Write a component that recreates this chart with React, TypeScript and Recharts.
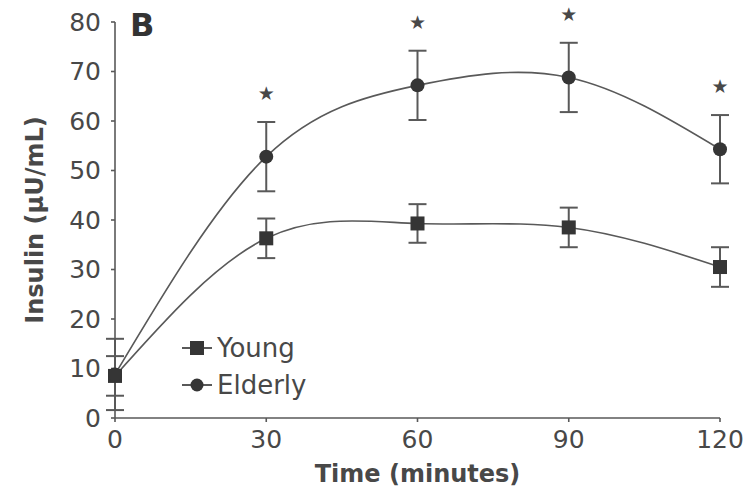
import React from "react";
import { LineChart, Line, XAxis, YAxis, ErrorBar, Legend } from "recharts";

const times = [0, 30, 60, 90, 120];
const young = [8.5, 36.3, 39.3, 38.5, 30.5];
const youngErr = [4, 4, 3.9, 4, 4];
const elderly = [8.8, 52.8, 67.2, 68.8, 54.3];
const elderlyErr = [7.2, 7, 7, 7, 6.9];
const significant = [false, true, true, true, true];
const xTicks = [0, 30, 60, 90, 120];
const yTicks = [0, 10, 20, 30, 40, 50, 60, 70, 80];

const data = times.map((t, i) => ({
  t,
  young: young[i],
  youngErr: youngErr[i],
  elderly: elderly[i],
  elderlyErr: elderlyErr[i],
  sig: significant[i],
}));

const W = 752;
const H = 501;
const MARGIN = { top: 22, right: 32, bottom: 0, left: 0 };
const X_AXIS_H = 83;
const Y_AXIS_W = 115;
const Y_MAX = 80;
const PX_PER_UNIT = (H - MARGIN.top - X_AXIS_H) / Y_MAX;

const FONT = "'DejaVu Sans', 'Liberation Sans', Arial, sans-serif";
const TEXT = "#484848";
const LINE = "#595959";
const MARK = "#353535";

const SquareDot = (props: any) => {
  const { cx, cy } = props;
  if (cx == null || cy == null) return null;
  return <rect x={cx - 7} y={cy - 7} width={14} height={14} fill={MARK} />;
};

const CircleDot = (props: any) => {
  const { cx, cy, payload } = props;
  if (cx == null || cy == null) return null;
  const capY = cy - payload.elderlyErr * PX_PER_UNIT;
  return (
    <g>
      <circle cx={cx} cy={cy} r={7} fill={MARK} />
      {payload.sig ? (
        <text
          x={cx}
          y={capY - 29}
          textAnchor="middle"
          dominantBaseline="central"
          fontSize={19}
          fontFamily={FONT}
          fill={TEXT}
        >
          ★
        </text>
      ) : null}
    </g>
  );
};

const LegendContent = () => (
  <svg width={150} height={80} style={{ display: "block", overflow: "visible" }}>
    <g>
      <line x1={2} y1={20} x2={32} y2={20} stroke={LINE} strokeWidth={2} />
      <rect x={10} y={13} width={14} height={14} fill={MARK} />
      <text x={37} y={29} fontSize={26} fontFamily={FONT} fill={TEXT}>
        Young
      </text>
    </g>
    <g>
      <line x1={2} y1={57} x2={32} y2={57} stroke={LINE} strokeWidth={2} />
      <circle cx={17} cy={57} r={6.5} fill={MARK} />
      <text x={37} y={66} fontSize={26} fontFamily={FONT} fill={TEXT}>
        Elderly
      </text>
    </g>
  </svg>
);

export default function App() {
  return (
    <div style={{ position: "absolute", left: 0, top: 0, background: "#fff" }}>
      <LineChart width={W} height={H} data={data} margin={MARGIN}>
        <XAxis
          dataKey="t"
          type="number"
          domain={[0, 120]}
          ticks={xTicks}
          height={X_AXIS_H}
          tickSize={4}
          tickMargin={8}
          stroke={LINE}
          strokeWidth={1.6}
          tick={{ fill: TEXT, fontSize: 25, fontFamily: FONT }}
          label={{
            value: "Time (minutes)",
            position: "insideBottom",
            offset: 19,
            fill: TEXT,
            fontSize: 24,
            fontWeight: "bold",
            fontFamily: FONT,
          }}
        />
        <YAxis
          type="number"
          domain={[0, Y_MAX]}
          ticks={yTicks}
          width={Y_AXIS_W}
          tickSize={4}
          tickMargin={10}
          stroke={LINE}
          strokeWidth={1.6}
          tick={{ fill: TEXT, fontSize: 25, fontFamily: FONT }}
          label={{
            value: "Insulin (μU/mL)",
            angle: -90,
            position: "insideLeft",
            offset: 34,
            fill: TEXT,
            fontSize: 24,
            fontWeight: "bold",
            fontFamily: FONT,
            style: { textAnchor: "middle" },
          }}
        />
        <Legend
          layout="vertical"
          align="center"
          verticalAlign="middle"
          content={<LegendContent />}
          wrapperStyle={{ left: 180, top: 328, width: 150, height: 80 }}
        />
        <Line
          type="natural"
          dataKey="young"
          name="Young"
          stroke={LINE}
          strokeWidth={1.6}
          dot={<SquareDot />}
          activeDot={false}
          isAnimationActive={false}
        >
          <ErrorBar dataKey="youngErr" direction="y" width={9} stroke={LINE} strokeWidth={2} />
        </Line>
        <Line
          type="natural"
          dataKey="elderly"
          name="Elderly"
          stroke={LINE}
          strokeWidth={1.6}
          dot={<CircleDot />}
          activeDot={false}
          isAnimationActive={false}
        >
          <ErrorBar dataKey="elderlyErr" direction="y" width={9} stroke={LINE} strokeWidth={2} />
        </Line>
        <text x={130} y={36} fontSize={32} fontWeight="bold" fontFamily={FONT} fill="#333">
          B
        </text>
      </LineChart>
    </div>
  );
}
